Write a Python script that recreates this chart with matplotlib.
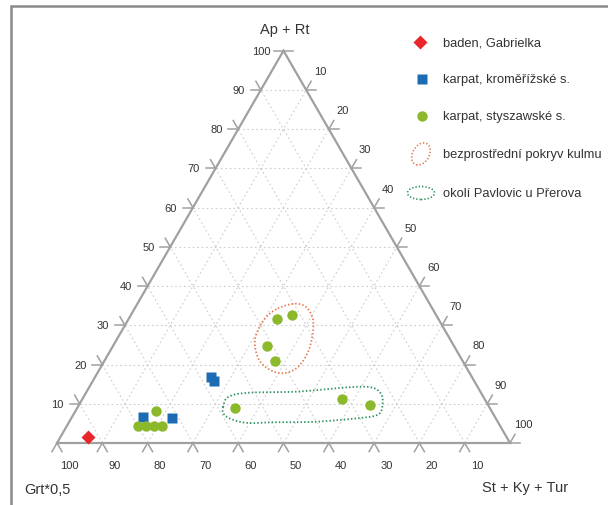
import numpy as np
import matplotlib
matplotlib.use("Agg")
import matplotlib.pyplot as plt
from matplotlib.patches import Ellipse

plt.rcParams['font.family'] = ['Liberation Sans Narrow', 'Liberation Sans', 'DejaVu Sans']

# ---- data (percent: Grt*0,5 / Ap+Rt / St+Ky+Tur) ----
red_grt = [92.5]
red_ap = [1.5]
red_st = [6.0]

blue_grt = [77.8, 71.5, 57.6, 57.3]
blue_ap = [6.6, 6.4, 16.9, 15.9]
blue_st = [15.6, 22.1, 25.5, 26.8]

green_grt = [79.9, 78.2, 76.5, 74.7, 74.1, 35.6, 31.7, 41.3, 41.4, 56.3, 31.4, 26.1]
green_ap = [4.3, 4.3, 4.3, 4.3, 8.1, 31.5, 32.7, 24.7, 20.8, 8.9, 11.3, 9.7]
green_st = [15.8, 17.5, 19.2, 21.0, 17.8, 32.9, 35.6, 34.0, 37.8, 34.8, 57.3, 64.2]

# enclosing outlines (Ap+Rt, St+Ky+Tur)
kulm_ap = [34.3, 35.5, 34.7, 31.7, 27.9, 23.2, 19.4, 17.8, 18.5, 21.0, 25.3, 28.7, 32.1]
kulm_st = [31.6, 34.6, 37.6, 40.6, 42.5, 43.8, 43.5, 41.3, 38.0, 34.2, 31.0, 30.0, 30.1]
pavl_ap = [9.1, 11.7, 12.8, 13.1, 14.2, 14.2, 12.5, 9.5, 7.2, 6.3, 5.4, 5.3, 5.1, 6.1, 7.4]
pavl_st = [32.1, 31.9, 35.7, 46.6, 57.0, 62.2, 65.3, 67.1, 67.2, 63.2, 54.1, 45.4, 39.6, 35.4, 33.1]

ticks = [10, 20, 30, 40, 50, 60, 70, 80, 90, 100]
labels_left = ["10", "20", "30", "40", "50", "60", "70", "80", "90", "100"]
labels_bottom = ["10", "20", "30", "40", "50", "60", "70", "80", "90", "100"]
labels_right = ["10", "20", "30", "40", "50", "60", "70", "80", "90", "100"]

legend_labels = ["baden, Gabrielka", "karpat, kroměřížské s.", "karpat, styszawské s.",
                 "bezprostřední pokryv kulmu", "okolí Pavlovic u Přerova"]

H = np.sqrt(3) / 2


def xy(ap, st):
    ap = np.asarray(ap, float)
    st = np.asarray(st, float)
    return st + ap / 2.0, ap * H


def closed_spline(x, y, n=24):
    P = np.column_stack([x, y])
    m = len(P)
    out = []
    for i in range(m):
        p0, p1, p2, p3 = P[(i - 1) % m], P[i], P[(i + 1) % m], P[(i + 2) % m]
        for t in np.linspace(0, 1, n, endpoint=False):
            t2, t3 = t * t, t * t * t
            pt = 0.5 * ((2 * p1) + (-p0 + p2) * t + (2 * p0 - 5 * p1 + 4 * p2 - p3) * t2
                        + (-p0 + 3 * p1 - 3 * p2 + p3) * t3)
            out.append(pt)
    out.append(out[0])
    out = np.array(out)
    return out[:, 0], out[:, 1]


W, Hpx = 608, 506
fig = plt.figure(figsize=(W / 100, Hpx / 100), dpi=100)
ax = fig.add_axes([0, 0, 1, 1])
scale = 4.53  # px per unit
x0 = -57 / scale
y0 = -62 / scale
ax.set_xlim(x0, x0 + W / scale)
ax.set_ylim(y0, y0 + Hpx / scale)
ax.axis('off')

grid_kw = dict(color='#cdcdcd', lw=0.8, ls=(0, (1.5, 2.5)), zorder=1)
axis_col = '#a0a0a0'

# grid lines
for v in ticks[:-1]:
    # constant Ap+Rt (horizontal)
    gx, gy = xy([v, v], [0, 100 - v])
    ax.plot(gx, gy, **grid_kw)
    # constant St
    gx, gy = xy([0, 100 - v], [v, v])
    ax.plot(gx, gy, **grid_kw)
    # constant Grt
    gx, gy = xy([0, 100 - v], [100 - v, 0])
    ax.plot(gx, gy, **grid_kw)

# triangle
tx, ty = xy([0, 0, 100, 0], [0, 100, 0, 0])
ax.plot(tx, ty, color=axis_col, lw=1.6, zorder=2, solid_joinstyle='miter')

tl = 2.2   # tick length
off_l = 22 / scale
off_b = 25 / scale
off_r = 22 / scale
lab_kw = dict(fontsize=8, color='#333333', ha='center', va='center')
tick_kw = dict(color=axis_col, lw=1.1, zorder=2)

# left edge: Ap+Rt
for v, lab in zip(ticks, labels_left):
    px, py = xy([v], [0])
    px, py = px[0], py[0]
    ax.plot([px, px - tl], [py, py], **tick_kw)
    if v < 100:
        ax.plot([px, px - tl * 0.5], [py, py + tl * H], **tick_kw)
    else:
        ax.plot([px, px + tl], [py, py], **tick_kw)
    ax.text(px - off_l, py, lab, **lab_kw)

# bottom edge: Grt*0,5
for v, lab in zip(ticks, labels_bottom):
    px, py = xy([0], [100 - v])
    px, py = px[0], py[0]
    ax.plot([px, px + tl * 0.5], [py, py - tl * H], **tick_kw)
    ax.plot([px, px - tl * 0.5], [py, py - tl * H], **tick_kw)
    ax.text(px + off_b * 0.5, py - off_b * H, lab, **lab_kw)

# right edge: St+Ky+Tur
for v, lab in zip(ticks, labels_right):
    px, py = xy([100 - v], [v])
    px, py = px[0], py[0]
    ax.plot([px, px + tl], [py, py], **tick_kw)
    ax.plot([px, px + tl * 0.5], [py, py + tl * H], **tick_kw)
    ax.text(px + off_r * 0.5 + 0.6, py + off_r * H, lab, **lab_kw)

# outlines
kx, ky = closed_spline(*xy(kulm_ap, kulm_st))
ax.plot(kx, ky, color='#e8784e', lw=1.3, ls=(0, (0.8, 1.2)), zorder=3)
px_, py_ = closed_spline(*xy(pavl_ap, pavl_st))
ax.plot(px_, py_, color='#2e9160', lw=1.3, ls=(0, (0.8, 1.2)), zorder=3)

# points
red_c = '#e8262b'
blue_c = '#1b6cb2'
green_c = '#8cb82b'
rx, ry = xy(red_ap, red_st)
ax.plot(rx, ry, 'D', color=red_c, ms=7, mec='none', zorder=5)
bx, by = xy(blue_ap, blue_st)
ax.plot(bx, by, 's', color=blue_c, ms=7, mec='none', zorder=5)
gx, gy = xy(green_ap, green_st)
ax.plot(gx, gy, 'o', color=green_c, ms=7.5, mec='none', zorder=5)

# axis titles (figure pixel positions)
def fpos(x, y):
    return x / W, 1 - y / Hpx

title_kw = dict(fontsize=10.5, color='#333333', ha='center', va='center', transform=fig.transFigure)
fig.text(*fpos(285, 30), "Ap + Rt", **title_kw)
fig.text(*fpos(47, 490), "Grt*0,5", **title_kw)
fig.text(*fpos(525, 488), "St + Ky + Tur", **title_kw)

# legend
leg_y = [43, 80, 117, 155, 194]
mx = 421
tx0 = 443
lk = dict(fontsize=9.3, color='#333333', ha='left', va='center', transform=fig.transFigure)
fig.lines.append(plt.Line2D(*[[v] for v in fpos(mx - 1, leg_y[0])], marker='D', color=red_c, ms=7,
                            mec='none', transform=fig.transFigure))
fig.lines.append(plt.Line2D(*[[v] for v in fpos(mx + 1, leg_y[1])], marker='s', color=blue_c, ms=7,
                            mec='none', transform=fig.transFigure))
fig.lines.append(plt.Line2D(*[[v] for v in fpos(mx + 1, leg_y[2])], marker='o', color=green_c, ms=7.5,
                            mec='none', transform=fig.transFigure))
e1 = Ellipse(fpos(mx, leg_y[3]), 17 / W, 23 / Hpx, angle=-20, fill=False, ec='#e8784e', lw=1.2,
             ls=(0, (0.8, 1.2)), transform=fig.transFigure)
e2 = Ellipse(fpos(mx, leg_y[4]), 27 / W, 13 / Hpx, angle=0, fill=False, ec='#2e9160', lw=1.2,
             ls=(0, (0.8, 1.2)), transform=fig.transFigure)
fig.patches.extend([e1, e2])
for yv, lab in zip(leg_y, legend_labels):
    fig.text(*fpos(tx0, yv), lab, **lk)

# frame
fig.lines.append(plt.Line2D([11 / W, 11 / W, 1], [0, 1 - 7 / Hpx, 1 - 7 / Hpx], color='#8a8a8a', lw=1.8,
                            transform=fig.transFigure, solid_joinstyle='miter'))

fig.savefig("out.png", dpi=100)
